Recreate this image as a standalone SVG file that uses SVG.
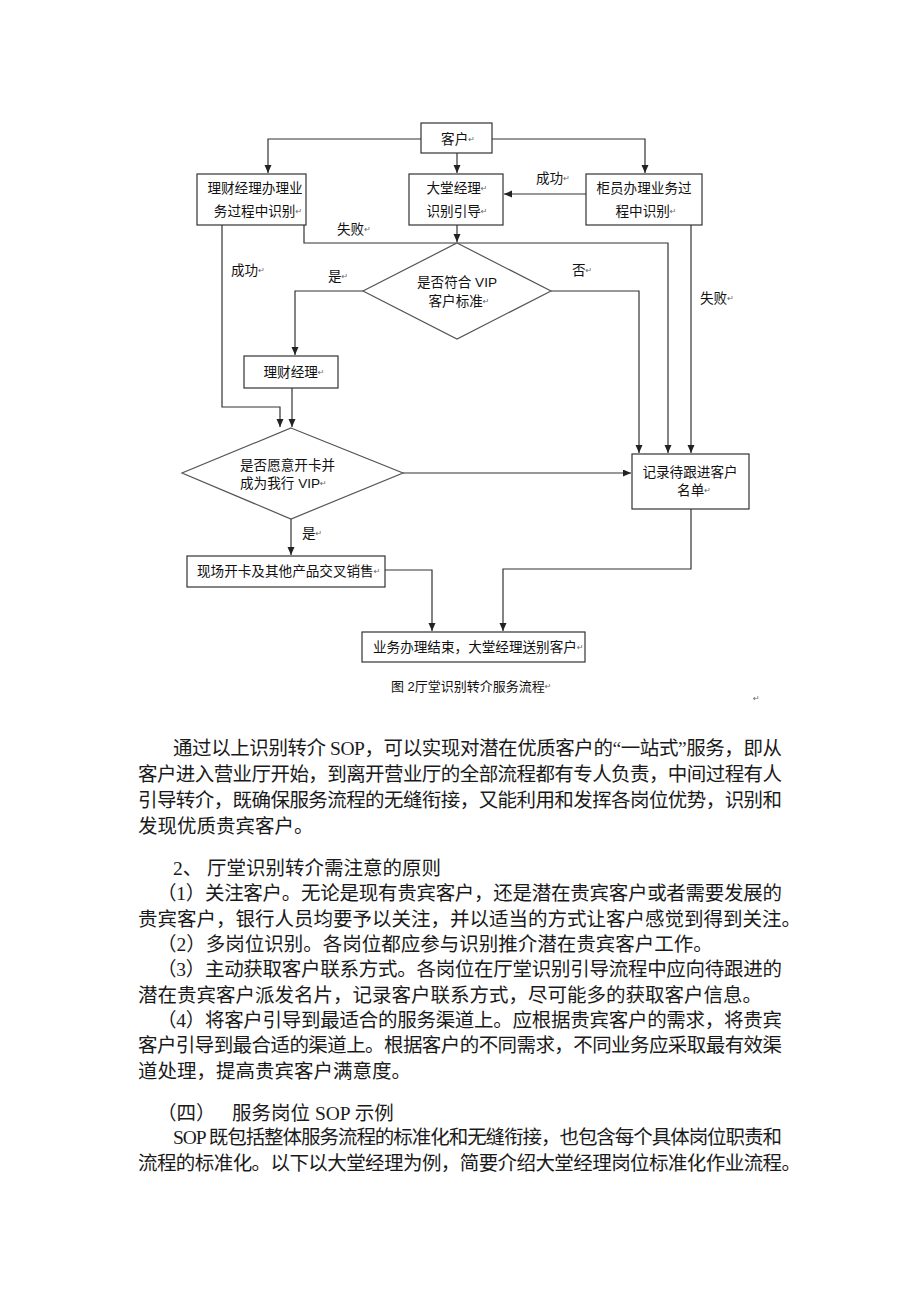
<svg xmlns="http://www.w3.org/2000/svg" width="920" height="1302" viewBox="0 0 920 1302">
<style>
  .bg { fill: #ffffff; }
  .box { fill: #ffffff; stroke: #333333; stroke-width: 1.2; }
  .dia { fill: #ffffff; stroke: #555555; stroke-width: 1.2; }
  .con { fill: none; stroke: #333333; stroke-width: 1.2; }
  .t { font-family: "Liberation Sans", "Noto Sans CJK SC", sans-serif; font-size: 13.6px; fill: #111111; dominant-baseline: central; }
  .m { text-anchor: middle; }
  .cap { font-size: 13px; }
  .rt { font-family: "DejaVu Sans", sans-serif; font-size: 8px; fill: #666666; }
  .body { font-family: "Liberation Serif", "Noto Sans CJK SC", serif; font-size: 19.5px; fill: #1a1a1a; dominant-baseline: central; }
</style>
<defs>
  <marker id="ah" markerUnits="userSpaceOnUse" markerWidth="9" markerHeight="8" refX="8" refY="3.5" orient="auto">
    <path d="M0,0 L8,3.5 L0,7 z" fill="#222222"/>
  </marker>
</defs>
<rect class="bg" x="0" y="0" width="920" height="1302"/>

<g id="connectors">
  <polyline class="con" points="421,139 268,139 268,173" marker-end="url(#ah)"/>
  <polyline class="con" points="457,153 457,173" marker-end="url(#ah)"/>
  <polyline class="con" points="492,139 645,139 645,173" marker-end="url(#ah)"/>
  <polyline class="con" points="586,194 504,194" marker-end="url(#ah)"/>
  <polyline class="con" points="457,225 457,242" marker-end="url(#ah)"/>
  <polyline class="con" points="304,225 304,243 668,243 668,453" marker-end="url(#ah)"/>
  <polyline class="con" points="691,225 691,453" marker-end="url(#ah)"/>
  <polyline class="con" points="551,291 639,291 639,453" marker-end="url(#ah)"/>
  <polyline class="con" points="363,291 295,291 295,355" marker-end="url(#ah)"/>
  <polyline class="con" points="222,225 222,407 280,407 280,427" marker-end="url(#ah)"/>
  <polyline class="con" points="292,388 292,427" marker-end="url(#ah)"/>
  <polyline class="con" points="403,473 631,473" marker-end="url(#ah)"/>
  <polyline class="con" points="291,519 291,555" marker-end="url(#ah)"/>
  <polyline class="con" points="691,509 691,569 503,569 503,631" marker-end="url(#ah)"/>
  <polyline class="con" points="385,570 432,570 432,631" marker-end="url(#ah)"/>
  <text class="t" x="536" y="178">成功<tspan class="rt">↵</tspan></text>
  <text class="t" x="337" y="229">失败<tspan class="rt">↵</tspan></text>
  <text class="t" x="231" y="270">成功<tspan class="rt">↵</tspan></text>
  <text class="t" x="328" y="276">是<tspan class="rt">↵</tspan></text>
  <text class="t" x="572" y="270">否<tspan class="rt">↵</tspan></text>
  <text class="t" x="700" y="298">失败<tspan class="rt">↵</tspan></text>
  <text class="t" x="302" y="533">是<tspan class="rt">↵</tspan></text>
</g>

<g id="node-kehu">
  <rect class="box" x="421" y="123" width="71" height="30"/>
  <text class="t m" x="458" y="139">客户<tspan class="rt">↵</tspan></text>
</g>
<g id="node-licai-banli">
  <rect class="box" x="197" y="174" width="109" height="51"/>
  <text class="t m" x="255" y="188">理财经理办理业</text>
  <text class="t m" x="258" y="211">务过程中识别<tspan class="rt">↵</tspan></text>
</g>
<g id="node-datang">
  <rect class="box" x="409" y="174" width="94" height="51"/>
  <text class="t m" x="457" y="188">大堂经理<tspan class="rt">↵</tspan></text>
  <text class="t m" x="457" y="211">识别引导<tspan class="rt">↵</tspan></text>
</g>
<g id="node-guiyuan">
  <rect class="box" x="586" y="174" width="116" height="51"/>
  <text class="t m" x="644" y="188">柜员办理业务过</text>
  <text class="t m" x="646" y="211">程中识别<tspan class="rt">↵</tspan></text>
</g>
<g id="node-vip-check">
  <polygon class="dia" points="457,243 551,291 457,339 363,291"/>
  <text class="t m" x="457" y="282">是否符合 VIP</text>
  <text class="t m" x="459" y="301">客户标准<tspan class="rt">↵</tspan></text>
</g>
<g id="node-licai">
  <rect class="box" x="244" y="356" width="94" height="32"/>
  <text class="t m" x="294" y="372">理财经理<tspan class="rt">↵</tspan></text>
</g>
<g id="node-open-card">
  <polygon class="dia" points="291,428 403,473 291,519 182,473"/>
  <text class="t" x="240" y="465">是否愿意开卡并</text>
  <text class="t" x="240" y="483">成为我行 VIP<tspan class="rt">↵</tspan></text>
</g>
<g id="node-record">
  <rect class="box" x="632" y="454" width="117" height="55"/>
  <text class="t m" x="690" y="472">记录待跟进客户</text>
  <text class="t m" x="694" y="490">名单<tspan class="rt">↵</tspan></text>
</g>
<g id="node-sale">
  <rect class="box" x="187" y="556" width="198" height="31"/>
  <text class="t" x="197" y="571">现场开卡及其他产品交叉销售<tspan class="rt">↵</tspan></text>
</g>
<g id="node-end">
  <rect class="box" x="362" y="632" width="223" height="30"/>
  <text class="t" x="373" y="647">业务办理结束，大堂经理送别客户<tspan class="rt">↵</tspan></text>
</g>
<text class="t cap" x="391" y="686">图 2厅堂识别转介服务流程<tspan class="rt">↵</tspan></text>
<text class="rt" x="753" y="701">↵</text>

<g id="body-text">
  <text class="body" x="173" y="748" textLength="609" lengthAdjust="spacing">通过以上识别转介 SOP，可以实现对潜在优质客户的“一站式”服务，即从</text>
  <text class="body" x="138" y="774" textLength="644" lengthAdjust="spacing">客户进入营业厅开始，到离开营业厅的全部流程都有专人负责，中间过程有人</text>
  <text class="body" x="138" y="800" textLength="644" lengthAdjust="spacing">引导转介，既确保服务流程的无缝衔接，又能利用和发挥各岗位优势，识别和</text>
  <text class="body" x="138" y="826">发现优质贵宾客户。</text>

  <text class="body" x="173" y="868">2、<tspan x="207">厅堂识别转介需注意的原则</tspan></text>
  <text class="body" x="157" y="893" textLength="625" lengthAdjust="spacing">（1）关注客户。无论是现有贵宾客户，还是潜在贵宾客户或者需要发展的</text>
  <text class="body" x="138" y="919" textLength="663" lengthAdjust="spacing">贵宾客户，银行人员均要予以关注，并以适当的方式让客户感觉到得到关注。</text>
  <text class="body" x="157" y="944">（2）多岗位识别。各岗位都应参与识别推介潜在贵宾客户工作。</text>
  <text class="body" x="157" y="969" textLength="625" lengthAdjust="spacing">（3）主动获取客户联系方式。各岗位在厅堂识别引导流程中应向待跟进的</text>
  <text class="body" x="138" y="995">潜在贵宾客户派发名片，记录客户联系方式，尽可能多的获取客户信息。</text>
  <text class="body" x="157" y="1020" textLength="625" lengthAdjust="spacing">（4）将客户引导到最适合的服务渠道上。应根据贵宾客户的需求，将贵宾</text>
  <text class="body" x="138" y="1045" textLength="644" lengthAdjust="spacing">客户引导到最合适的渠道上。根据客户的不同需求，不同业务应采取最有效渠</text>
  <text class="body" x="138" y="1071">道处理，提高贵宾客户满意度。</text>

  <text class="body" x="157" y="1113">（四）<tspan x="232">服务岗位 SOP 示例</tspan></text>
  <text class="body" x="173" y="1137" textLength="609" lengthAdjust="spacing">SOP 既包括整体服务流程的标准化和无缝衔接，也包含每个具体岗位职责和</text>
  <text class="body" x="138" y="1163" textLength="663" lengthAdjust="spacing">流程的标准化。以下以大堂经理为例，简要介绍大堂经理岗位标准化作业流程。</text>
</g>
</svg>
